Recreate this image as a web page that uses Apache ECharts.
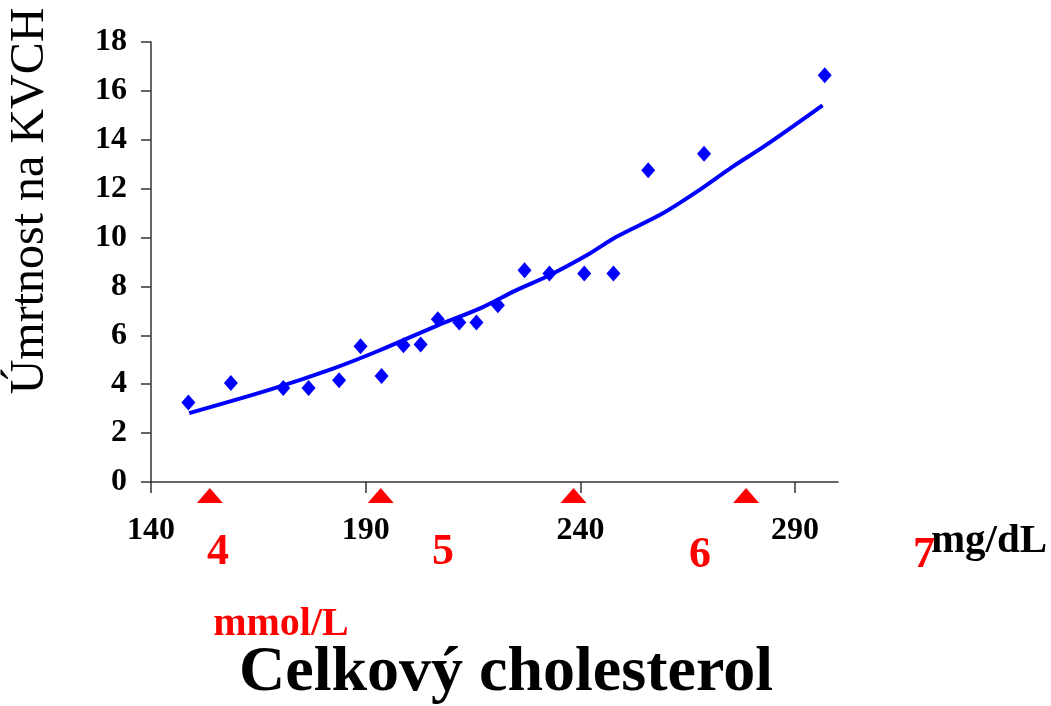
<!DOCTYPE html>
<html>
<head>
<meta charset="utf-8">
<script src="https://cdn.jsdelivr.net/npm/echarts@6/dist/echarts.min.js"></script>
<style>
	html, body { margin: 0; padding: 0; background: #fff; }
	#chart { width: 1051px; height: 706px; }
</style>
</head>
<body>
<div id="chart"></div>
<script>
// 数据：总胆固醇 (mg/dL) 与 KVCH 死亡率
var cholX = [148.7, 158.6, 170.8, 176.7, 183.8, 188.8, 193.7, 198.8, 202.8, 206.8, 211.8, 215.8, 220.8, 227.0, 232.8, 240.9, 247.7, 255.8, 268.8, 296.9];
var mortY = [3.25, 4.05, 3.85, 3.85, 4.16, 5.55, 4.34, 5.59, 5.62, 6.66, 6.52, 6.52, 7.23, 8.66, 8.53, 8.53, 8.53, 12.75, 13.43, 16.64];
// 趋势线
var trendX = [148.9, 167.7, 182.4, 193.3, 206.8, 216.5, 225.0, 232.8, 242.1, 248.3, 259.1, 267.7, 275.4, 283.2, 296.4];
var trendY = [2.82, 3.78, 4.64, 5.39, 6.41, 7.09, 7.84, 8.46, 9.34, 10.02, 10.98, 11.94, 12.89, 13.78, 15.41];
// 刻度
var xTicks = [140, 190, 240, 290];
var mmolMarks = [153.7, 193.5, 238.4, 278.6];   // 红色三角 (mg/dL 位置)
var mmolLabels = ['4', '5', '6', '7'];

var serif = '"Liberation Serif", "Times New Roman", serif';

var chart = echarts.init(document.getElementById('chart'));

var pointData = [];
for (var i = 0; i < cholX.length; i++) {
	pointData.push([cholX[i], mortY[i]]);
}
var trendData = [];
for (var j = 0; j < trendX.length; j++) {
	trendData.push([trendX[j], trendY[j]]);
}
var markData = [];
for (var k = 0; k < mmolMarks.length; k++) {
	markData.push([mmolMarks[k], -0.55]);
}

// mmol 标签位置 (与三角不对齐)
var mmolPos = [[218, 553], [443, 553], [700, 556], [924, 556]];
var graphics = [
	{
		type: 'text', x: 30, y: 201, rotation: Math.PI / 2,
		style: { text: 'Úmrtnost na KVCH', font: 'normal 48px ' + serif, fill: '#000', align: 'center', verticalAlign: 'middle' }
	},
	{
		type: 'text', x: 989, y: 541,
		style: { text: 'mg/dL', font: 'bold 41px ' + serif, fill: '#000', align: 'center', verticalAlign: 'middle' }
	},
	{
		type: 'text', x: 281, y: 625,
		style: { text: 'mmol/L', font: 'bold 40px ' + serif, fill: '#ff0000', align: 'center', verticalAlign: 'middle' }
	},
	{
		type: 'text', x: 506, y: 673,
		style: { text: 'Celkový cholesterol', font: 'bold 64px ' + serif, fill: '#000', align: 'center', verticalAlign: 'middle' }
	}
];
for (var m = 0; m < mmolLabels.length; m++) {
	graphics.push({
		type: 'text', x: mmolPos[m][0], y: mmolPos[m][1],
		style: { text: mmolLabels[m], font: 'bold 44px ' + serif, fill: '#ff0000', align: 'center', verticalAlign: 'middle' }
	});
}

var option = {
	animation: false,
	backgroundColor: '#fff',
	grid: {
		left: 151,
		right: 213,
		top: 42,
		bottom: 224
	},
	xAxis: {
		type: 'value',
		min: 140,
		max: 300,
		splitLine: { show: false },
		axisLine: { lineStyle: { color: '#333', width: 1.5 } },
		axisTick: {
			length: 11,
			customValues: xTicks,
			lineStyle: { color: '#333', width: 1.5 }
		},
		axisLabel: {
			customValues: xTicks,
			margin: 33,
			color: '#000',
			fontFamily: serif,
			fontWeight: 'bold',
			fontSize: 32
		}
	},
	yAxis: {
		type: 'value',
		min: 0,
		max: 18,
		interval: 2,
		splitLine: { show: false },
		axisLine: { show: true, lineStyle: { color: '#333', width: 1.5 } },
		axisTick: { show: true, length: 10, lineStyle: { color: '#333', width: 1.5 } },
		axisLabel: {
			margin: 24,
			color: '#000',
			fontFamily: serif,
			fontWeight: 'bold',
			fontSize: 32
		}
	},
	series: [
		{
			type: 'line',
			data: trendData,
			smooth: 0.3,
			showSymbol: false,
			lineStyle: { color: '#0000ff', width: 4 },
			z: 2
		},
		{
			type: 'scatter',
			data: pointData,
			symbol: 'diamond',
			symbolSize: [14, 16],
			itemStyle: { color: '#0000ff', opacity: 1 },
			z: 3
		},
		{
			type: 'scatter',
			data: markData,
			clip: false,
			symbol: 'triangle',
			symbolSize: [26, 15],
			itemStyle: { color: '#ff0000', opacity: 1 },
			z: 3
		}
	],
	graphic: graphics
};
chart.setOption(option);
</script>
</body>
</html>
